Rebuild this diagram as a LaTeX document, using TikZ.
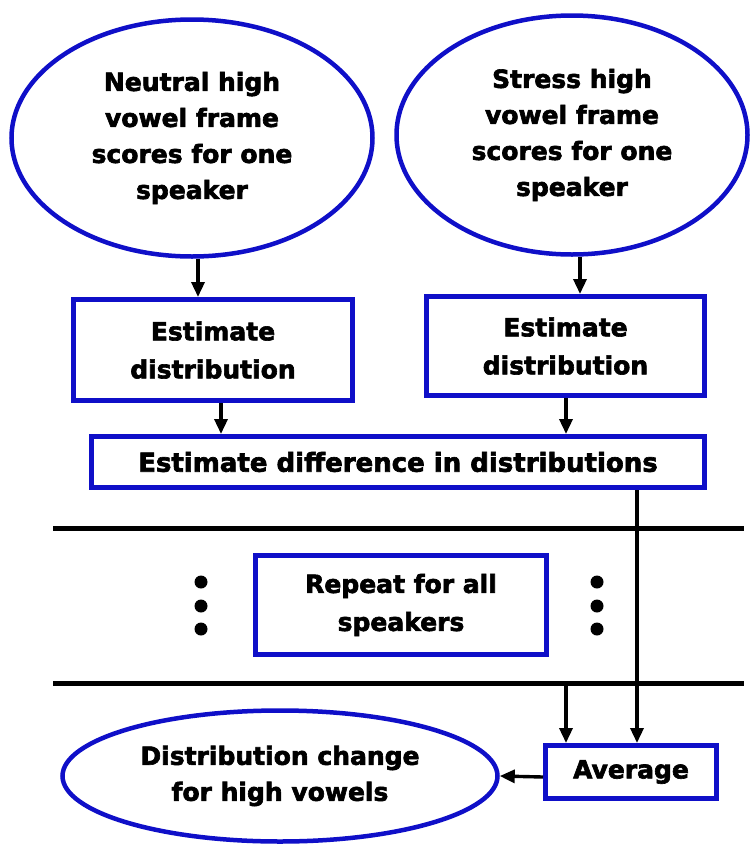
\documentclass[tikz,border=0pt]{standalone}
\usepackage{fontspec}
\setmainfont{DejaVu Sans}[BoldFeatures={FakeBold=2.5}]
\usetikzlibrary{arrows.meta,shapes.geometric}
\definecolor{bblue}{RGB}{15,15,200}
\begin{document}
\begin{tikzpicture}[x=1pt,y=-1pt,
  txt/.style={font=\bfseries\fontsize{25}{36}\selectfont, align=center, text=black},
  ell/.style={draw=bblue, line width=4.5pt, ellipse, txt, inner sep=0pt},
  boxn/.style={draw=bblue, line width=5pt, rectangle, txt, inner sep=0pt,
     font=\bfseries\fontsize{25}{38}\selectfont},
  arr/.style={draw=black, line width=3.4pt, -{Triangle[length=15pt,width=13pt]}},
  sep/.style={draw=black, line width=5pt},
  dotn/.style={circle, fill=black, inner sep=0pt, minimum size=13pt}]
\useasboundingbox (0,0) rectangle (752,844);
\fill[white] (0,0) rectangle (752,844);

\node[ell, minimum width=361pt, minimum height=237pt] (e1) at (192,138)
  {Neutral high\\vowel frame\\scores for one\\speaker};
\node[ell, minimum width=351pt, minimum height=239pt] (e2) at (572,135)
  {Stress high\\vowel frame\\scores for one\\speaker};

\node[boxn, minimum width=279pt, minimum height=101pt] (b1) at (213,350)
  {Estimate\\distribution};
\node[boxn, minimum width=278pt, minimum height=99pt] (b2) at (565.5,346)
  {Estimate\\distribution};
\node[boxn, minimum width=613pt, minimum height=51pt,
      font=\bfseries\fontsize{26}{38}\selectfont] (b3) at (398,462)
  {Estimate difference in distributions};
\node[boxn, minimum width=291pt, minimum height=99pt] (rep) at (401,605)
  {Repeat for all\\speakers};
\node[boxn, minimum width=171pt, minimum height=53pt] (avg) at (631,772)
  {Average};
\node[ell, minimum width=435pt, minimum height=131pt] (e3) at (280,776)
  {Distribution change\\for high vowels};

\coordinate (l1a) at (53,528);
\coordinate (l1b) at (744,528);
\coordinate (l2a) at (53,683);
\coordinate (l2b) at (744,683);
\draw[sep] (l1a) -- (l1b);
\draw[sep] (l2a) -- (l2b);
\coordinate (l2s) at (566,683);

\node[dotn] (dl1) at (201,582) {};
\node[dotn] (dl2) at (201,606) {};
\node[dotn] (dl3) at (201,629) {};
\node[dotn] (dr1) at (597,582) {};
\node[dotn] (dr2) at (597,606) {};
\node[dotn] (dr3) at (597,629) {};

\draw[arr] ([xshift=6pt]e1.south) -- ([xshift=-15pt]b1.north);
\draw[arr] ([xshift=8pt]e2.south) -- ([xshift=14.5pt]b2.north);
\draw[arr] ([xshift=8pt]b1.south) -- ([xshift=-177pt]b3.north);
\draw[arr] ([xshift=0.5pt]b2.south) -- ([xshift=168pt]b3.north);
\draw[arr] ([xshift=239pt]b3.south) -- ([xshift=6pt]avg.north);
\draw[arr] (l2s) -- ([xshift=-65pt]avg.north);
\draw[arr] ([yshift=-5pt]avg.west) -- (e3.east);
\end{tikzpicture}
\end{document}
